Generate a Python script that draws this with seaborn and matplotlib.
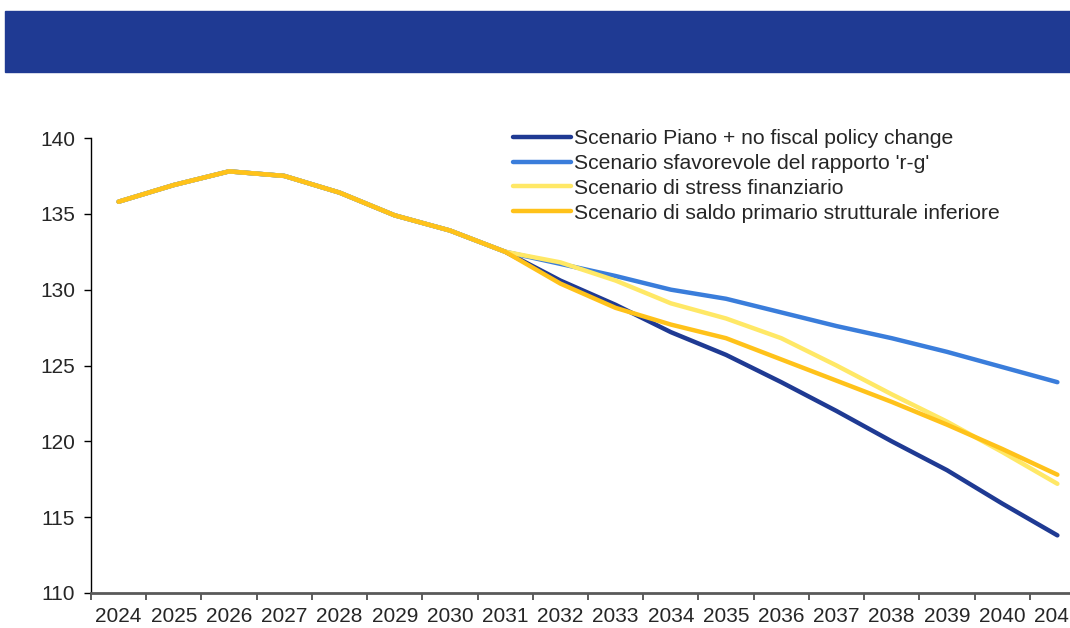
import pandas as pd
import matplotlib.pyplot as plt
import seaborn as sns
from matplotlib.patches import Rectangle
from matplotlib.ticker import FixedLocator

# anni e scenari
anni = [str(a) for a in range(2024, 2042)]
comune = [135.8, 136.9, 137.8, 137.5, 136.4, 134.9, 133.9, 132.5]

piano = comune + [130.6, 129.0, 127.2, 125.7, 123.9, 122.0, 120.0, 118.1, 115.9, 113.8]
sfavorevole = comune + [131.7, 130.9, 130.0, 129.4, 128.5, 127.6, 126.8, 125.9, 124.9, 123.9]
stress = comune + [131.8, 130.6, 129.1, 128.1, 126.8, 125.0, 123.1, 121.3, 119.3, 117.2]
saldo = comune + [130.4, 128.8, 127.7, 126.8, 125.4, 124.0, 122.6, 121.1, 119.5, 117.8]

nomi = ["Scenario Piano + no fiscal policy change",
        "Scenario sfavorevole del rapporto 'r-g'",
        "Scenario di stress finanziario",
        "Scenario di saldo primario strutturale inferiore"]
colori = ["#1F3A93", "#3A7DDB", "#FFE866", "#FFC21A"]

df = pd.DataFrame({
    "anno": anni * 4,
    "valore": piano + sfavorevole + stress + saldo,
    "scenario": [n for n in nomi for _ in anni],
})

sns.set_style("white")
plt.rcParams["font.family"] = ["Liberation Sans", "DejaVu Sans"]

fig = plt.figure(figsize=(10.7, 6.28), dpi=100)
ax = fig.add_axes([91 / 1070, 35 / 628, 994 / 1070, 455 / 628])

# banda blu in alto
fig.patches.append(Rectangle((5 / 1070, 1 - 72 / 628), 1, 61 / 628,
                             transform=fig.transFigure, color="#1F3A93", zorder=0))

sns.lineplot(data=df, x="anno", y="valore", hue="scenario", hue_order=nomi,
             palette=colori, linewidth=3.2, solid_capstyle="round", ax=ax)

ax.set_xlim(-0.5, 17.5)
ax.set_ylim(110, 140)
ax.set_yticks(range(110, 141, 5))
ax.set_xticks(range(len(anni)))
ax.set_xticklabels(anni)
ax.xaxis.set_minor_locator(FixedLocator([i - 0.5 for i in range(len(anni) + 1)]))
ax.tick_params(axis="x", which="major", length=0, pad=10, labelsize=15)
ax.tick_params(axis="x", which="minor", length=5, width=1.2, color="#404040", bottom=True)
ax.tick_params(axis="y", length=5, width=1, color="black", pad=6.5, labelsize=15, left=True)
ax.set_xlabel("")
ax.set_ylabel("")

for s in ["top", "right"]:
    ax.spines[s].set_visible(False)
ax.spines["left"].set_color("black")
ax.spines["left"].set_linewidth(1)
ax.spines["bottom"].set_color("#595959")
ax.spines["bottom"].set_linewidth(2)

handles, labels = ax.get_legend_handles_labels()
ax.legend(handles, labels, loc="upper left", bbox_to_anchor=(513 / 1070, 1 - 129 / 628),
          bbox_transform=fig.transFigure, frameon=False, fontsize=15.2,
          handlelength=2.75, handletextpad=0.15, labelspacing=0.28, borderpad=0,
          borderaxespad=0)

fig.savefig("out.png", dpi=100)
